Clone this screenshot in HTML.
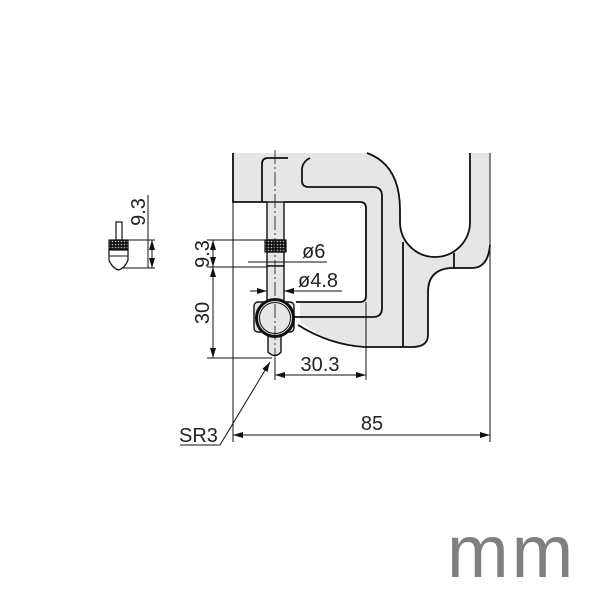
<!DOCTYPE html>
<html><head><meta charset="utf-8"><style>
html,body{margin:0;padding:0;background:#fff;}
svg{display:block;}
text{font-family:"Liberation Sans Narrow","Liberation Sans",sans-serif;fill:#222;}
</style></head><body>
<svg width="600" height="600" viewBox="0 0 600 600" xmlns="http://www.w3.org/2000/svg">
<defs>
<marker id="a" viewBox="0 0 10 6" refX="10" refY="3" markerWidth="10" markerHeight="6" orient="auto-start-reverse" markerUnits="userSpaceOnUse"><path d="M0,0 L10,3 L0,6 z" fill="#111"/></marker>
<pattern id="k" width="3" height="3" patternUnits="userSpaceOnUse"><rect width="3" height="3" fill="#111"/><circle cx="1.5" cy="1.5" r="0.8" fill="#bbb"/></pattern>
</defs>
<path d="M233,153 L367,153 Q400,165 400,210 L400,222 A35,35 0 0 0 470,222 L470,153 L490,153 L490,252 Q488,268 472,268 L450,268 Q428,270 428,292 L428,335 Q428,347 412,347 L365,347 Q330,345 300,322 L300,302 L360,302 Q366,302 366,296 L366,208 Q366,202 360,202 L284,202 L267,202 L233,202 Z" fill="#e6e6e6"/>
<g fill="none" stroke="#111" stroke-width="1.8">
<path d="M233,153 L233,202 L267,202"/>
<path d="M284,202 L360,202 Q366,202 366,208 L366,296 Q366,302 360,302 L296,302"/>
<path d="M367,153 Q400,165 400,210 L400,222 A35,35 0 0 0 470,222 L470,153"/>
<path d="M490,245 Q488,268 472,268 L450,268 Q428,270 428,292 L428,335 Q428,347 412,347 L365,347 Q330,345 298,325"/>
<path d="M262,202 L262,164 Q262,158 268,158 L288,158"/>
<path d="M310,158 Q302,162 302,170 L302,181 Q302,187 309,187 L373,187 Q382,187 382,196 L382,308 Q382,317 373,317 L294,317"/>
<path d="M403,242 L403,347"/>
<path d="M454,253 L454,269"/>
</g>
<rect x="267" y="202" width="17" height="38" fill="#e6e6e6" stroke="#111" stroke-width="1.4"/>
<rect x="265" y="240" width="21" height="12" fill="url(#k)" stroke="#111" stroke-width="1.2"/>
<rect x="267" y="252" width="17" height="14" fill="#e6e6e6" stroke="#111" stroke-width="1.4"/>
<rect x="267" y="266" width="17" height="36" fill="#e6e6e6" stroke="#111" stroke-width="1.4"/>
<rect x="254" y="302" width="40" height="30" rx="4" fill="#e6e6e6" stroke="#111" stroke-width="1.4"/>
<path d="M268,330 L268,352 Q275,359 281,352 L281,330" fill="#e6e6e6" stroke="#111" stroke-width="1.4"/>
<circle cx="275" cy="318" r="18.5" fill="#e6e6e6" stroke="#111" stroke-width="3"/>
<circle cx="275" cy="318" r="15.5" fill="none" stroke="#111" stroke-width="1"/>
<path d="M275,150 L275,362" stroke="#111" stroke-width="0.8" stroke-dasharray="14,3,2,3" fill="none"/>
<g stroke="#111" stroke-width="1" fill="none">
<path d="M207,240 L265,240 M207,267 L267,267 M207,358 L272,358"/>
<path d="M213,240 L213,267" marker-start="url(#a)" marker-end="url(#a)"/>
<path d="M213,267 L213,358" marker-start="url(#a)" marker-end="url(#a)"/>
<path d="M248,262 L327,262"/>
<path d="M250,291 L267,291" marker-end="url(#a)"/>
<path d="M342,291 L284,291" marker-end="url(#a)"/>
<path d="M275,358 L275,380 M366,302 L366,380"/>
<path d="M275,375 L366,375" marker-start="url(#a)" marker-end="url(#a)"/>
<path d="M233,202 L233,442 M490,153 L490,442"/>
<path d="M233,435 L490,435" marker-start="url(#a)" marker-end="url(#a)"/>
<path d="M180,445 L220,445 L270,362" marker-end="url(#a)"/>
<path d="M148,195 L148,268 M110,240 L155,240 M118,268 L155,268"/>
<path d="M152,240 L152,268" marker-start="url(#a)" marker-end="url(#a)"/>
</g>
<rect x="116" y="222" width="6" height="18" fill="#fff" stroke="#111" stroke-width="1.2"/>
<rect x="109" y="240" width="19" height="10" fill="url(#k)" stroke="#111" stroke-width="1.2"/>
<path d="M109,250 L109,260 Q112,268 118.5,270 Q125,268 128,260 L128,250 Z" fill="#fff" stroke="#111" stroke-width="1.2"/>
<path d="M109,256 L128,256" stroke="#111" stroke-width="1"/>
<g font-size="20">
<text x="302" y="258">ø6</text>
<text x="298" y="287">ø4.8</text>
<text x="320" y="371" text-anchor="middle">30.3</text>
<text x="372" y="430" text-anchor="middle">85</text>
<text x="179" y="442">SR3</text>
<text transform="translate(209,254) rotate(-90)" text-anchor="middle">9.3</text>
<text transform="translate(209,313) rotate(-90)" text-anchor="middle">30</text>
<text transform="translate(145,212) rotate(-90)" text-anchor="middle">9.3</text>
</g>
<text x="447" y="577" font-size="74" letter-spacing="3" style="fill:#808080;font-family:'Liberation Sans',sans-serif">mm</text>
</svg>
</body></html>
